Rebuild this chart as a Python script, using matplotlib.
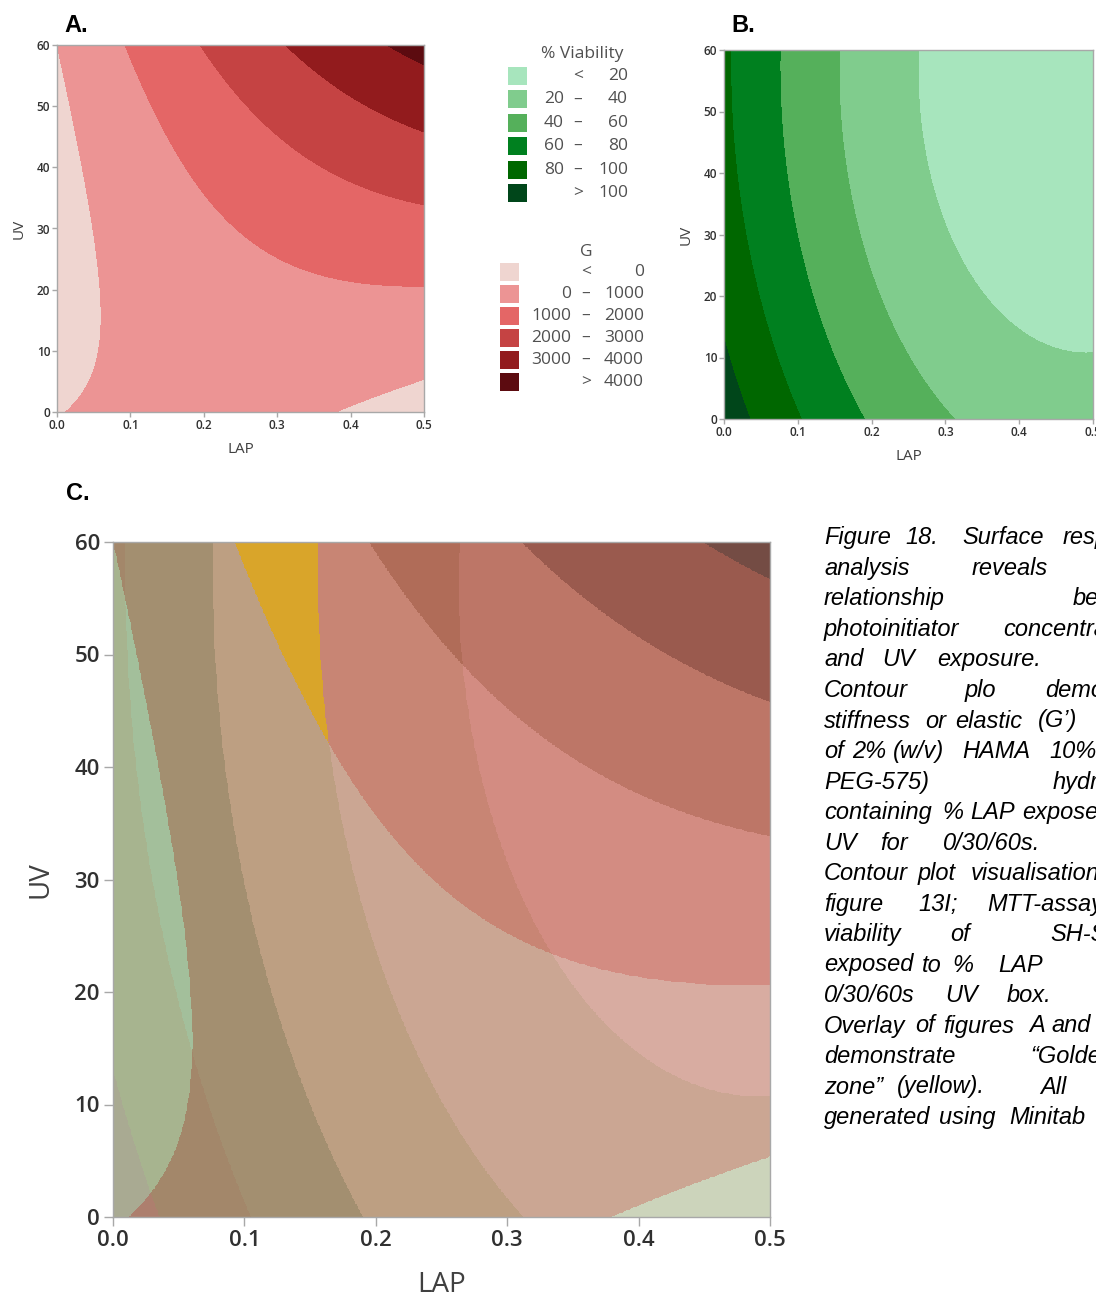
import numpy as np
import matplotlib.pyplot as plt
from matplotlib.patches import Rectangle
from matplotlib.colors import to_rgb

W, H = 1096, 1297

# fitted response-surface coefficients: const, LAP, UV, LAP^2, UV^2, LAP*UV
g_coef = [-24.4, 2100.0, -19.75, -5357.0, 0.3359, 153.4]
v_coef = [111.3, -334.4, -0.979, 339.7, 0.00846, 0.1]

g_levels = [0, 1000, 2000, 3000, 4000]
v_levels = [20, 40, 60, 80, 100]
g_labels = [("", "<", "0"), ("0", "–", "1000"), ("1000", "–", "2000"),
            ("2000", "–", "3000"), ("3000", "–", "4000"), ("", ">", "4000")]
v_labels = [("", "<", "20"), ("20", "–", "40"), ("40", "–", "60"),
            ("60", "–", "80"), ("80", "–", "100"), ("", ">", "100")]

g_colors = ["#efd5d0", "#ec9494", "#e46666", "#c54343", "#921b1d", "#5c0b10"]
v_colors = ["#a7e5bd", "#80cc8d", "#55b05b", "#00801f", "#006700", "#00461a"]

# overlay colours, key = (G band, viability band)
overlay = {(0, 5): "#a9aa92", (0, 4): "#a7b48f", (0, 3): "#a3bf9b", (0, 2): "#b5c6a4",
           (0, 1): "#ccd4bb", (0, 0): "#d6dccb",
           (1, 5): "#ad7f6e", (1, 4): "#a3876a", (1, 3): "#a38f70", (1, 2): "#bd9f82",
           (1, 1): "#cba693", (1, 0): "#d8aca1",
           (2, 2): "#d9a52a", (2, 1): "#c88574", (2, 0): "#d38c82",
           (3, 1): "#b06c58", (3, 0): "#bd7667",
           (4, 1): "#8f5346", (4, 0): "#9a5a4e", (5, 0): "#744c44"}

# caption words with their left edge (px); lines are justified and cut by the page edge
caption = [
    [("Figure", 824), ("18.", 905), ("Surface", 962), ("response", 1063)],
    [("analysis", 824), ("reveals", 972)],
    [("relationship", 824), ("between", 1073)],
    [("photoinitiator", 824), ("concentration", 1003)],
    [("and", 824), ("UV", 882), ("exposure.", 937)],
    [("Contour", 824), ("plo", 965), ("demonstrating", 1045)],
    [("stiffness", 824), ("or", 925), ("elastic", 955), ("(G’)", 1038)],
    [("of", 824), ("2%", 852), ("(w/v)", 893), ("HAMA", 962), ("10%", 1049)],
    [("PEG-575)", 824), ("hydrogels", 1053)],
    [("containing", 824), ("%", 942), ("LAP", 970), ("exposed", 1022)],
    [("UV", 824), ("for", 880), ("0/30/60s.", 943)],
    [("Contour", 824), ("plot", 918), ("visualisation", 971)],
    [("figure", 824), ("13I;", 918), ("MTT-assay", 987)],
    [("viability", 824), ("of", 950), ("SH-SY5Y", 1050)],
    [("exposed", 824), ("to", 922), ("%", 952), ("LAP", 998)],
    [("0/30/60s", 824), ("UV", 945), ("box.", 1007)],
    [("Overlay", 824), ("of", 915), ("figures", 943), ("A", 1029), ("and", 1051)],
    [("demonstrate", 824), ("“Golden", 1030)],
    [("zone”", 824), ("(yellow).", 897), ("All", 1040)],
    [("generated", 824), ("using", 939), ("Minitab", 1009)],
]

lap = np.linspace(0, 0.5, 900)
uv = np.linspace(0, 60, 900)
X, Y = np.meshgrid(lap, uv)


def surface(c):
    return c[0] + c[1]*X + c[2]*Y + c[3]*X**2 + c[4]*Y**2 + c[5]*X*Y


G = surface(g_coef)
V = surface(v_coef)

fig = plt.figure(figsize=(W/100, H/100), dpi=100)
plt.rcParams['font.family'] = ['Open Sans', 'DejaVu Sans']


def box(l, t, r, b):
    return [l/W, 1 - b/H, (r - l)/W, (b - t)/H]


def style(ax, ls, lab, pad, tpad):
    ax.set_xlim(0, 0.5)
    ax.set_ylim(0, 60)
    ax.set_xticks([0, 0.1, 0.2, 0.3, 0.4, 0.5])
    ax.set_xticklabels(["0.0", "0.1", "0.2", "0.3", "0.4", "0.5"])
    ax.set_yticks([0, 10, 20, 30, 40, 50, 60])
    for s in ax.spines.values():
        s.set_color("#a8a8a8")
        s.set_linewidth(1.0)
    ax.tick_params(labelsize=ls, colors="#a8a8a8", labelcolor="#303030",
                   length=ls*0.4, width=1.0, pad=tpad)
    for t in ax.get_xticklabels() + ax.get_yticklabels():
        t.set_fontweight("semibold")
    ax.set_xlabel("LAP", fontsize=lab, color="#404040", labelpad=pad)
    ax.set_ylabel("UV", fontsize=lab, color="#404040", labelpad=pad)


# panel A
axA = fig.add_axes(box(57, 45, 424, 412))
axA.contourf(X, Y, G, levels=[-1e9] + g_levels + [1e9], colors=g_colors)
style(axA, 8.5, 11, 7, 1.5)

# panel B
axB = fig.add_axes(box(724, 50, 1093, 419))
axB.contourf(X, Y, V, levels=[-1e9] + v_levels + [1e9], colors=v_colors)
style(axB, 8.5, 11, 7, 1.5)

# panel C: overlay of A and B
gb = np.digitize(G, g_levels)
vb = np.digitize(V, v_levels)
img = np.zeros(G.shape + (3,))
for (i, j), c in overlay.items():
    img[(gb == i) & (vb == j)] = to_rgb(c)
axC = fig.add_axes(box(113, 542, 770, 1217))
axC.imshow(img, extent=[0, 0.5, 0, 60], origin="lower", aspect="auto",
           interpolation="nearest")
style(axC, 16, 20, 14, 3)

# panel letters
for lbl, x, y in [("A.", 64, 26), ("B.", 731, 26), ("C.", 66, 493)]:
    fig.text(x/W, 1 - y/H, lbl, fontsize=17, fontweight="bold",
             family="Liberation Sans", va="center", ha="left")


# legends
def legend(title, tx, ty, labels, colors, px0, py0, dy, xl, xd, xr, size):
    fig.text(tx/W, 1 - ty/H, title, fontsize=size, color="#505050",
             ha="center", va="center")
    for k, (a, d, b) in enumerate(labels):
        yc = py0 + k*dy
        fig.patches.append(Rectangle(((px0)/W, 1 - (yc + 9)/H), 19/W, 18/H,
                                     transform=fig.transFigure,
                                     facecolor=colors[k], edgecolor="none"))
        kw = dict(fontsize=size, color="#505050", va="center")
        if a:
            fig.text(xl/W, 1 - yc/H, a, ha="right", **kw)
        fig.text(xd/W, 1 - yc/H, d, ha="center", **kw)
        fig.text(xr/W, 1 - yc/H, b, ha="right", **kw)


legend("% Viability", 582, 54, v_labels, v_colors, 508, 76, 23.4,
       564, 578, 628, 12.5)
legend("G", 586, 252, g_labels, g_colors, 500, 272, 22, 571, 586, 644, 12.5)

# caption text; a word never starts before the previous one has ended
renderer = fig.canvas.get_renderer()
for i, line in enumerate(caption):
    y = 538 + 30.5*i
    end = 0
    for word, x in line:
        x = max(x, end + 7)
        t = fig.text(x/W, 1 - y/H, word, fontsize=17, style="italic",
                     family="Liberation Sans", va="center", ha="left")
        end = t.get_window_extent(renderer).x1

fig.savefig("out.png", dpi=100)
